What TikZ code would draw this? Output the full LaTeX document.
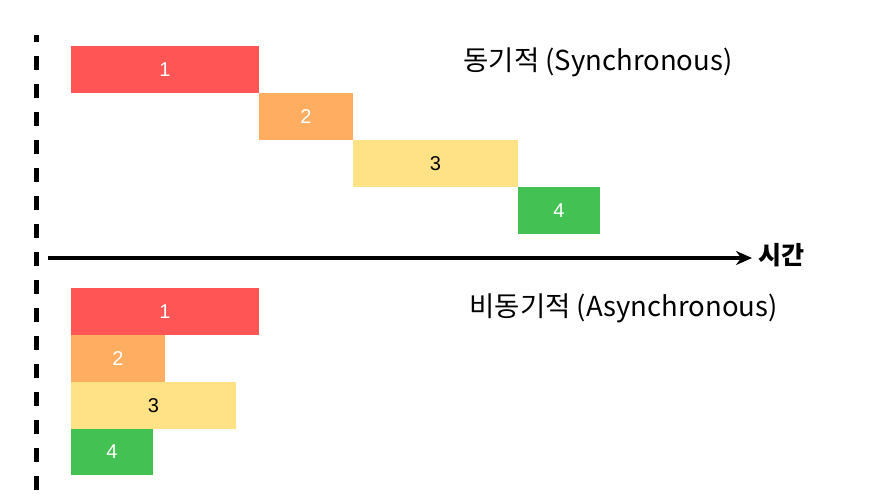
\documentclass[tikz,border=0pt]{standalone}
\usepackage{fontspec}
\setmainfont{Liberation Sans}
\newfontfamily\kr{Noto Sans CJK KR}
\usetikzlibrary{arrows.meta}
\definecolor{taskred}{HTML}{FF5555}
\definecolor{taskorange}{HTML}{FFAD60}
\definecolor{taskyellow}{HTML}{FFE285}
\definecolor{taskgreen}{HTML}{44C153}
\tikzset{
  taskbox/.style={anchor=north west, minimum height=47pt, inner sep=0pt, outer sep=0pt,
    font=\fontsize{20}{22}\selectfont, text=white},
  modelabel/.style={font=\kr\fontsize{27.5}{32}\selectfont, anchor=west},
  timeline/.style={line width=3.5pt, -{Stealth[length=16pt,width=14pt]}},
  dashline/.style={line width=5pt, dash pattern=on 14pt off 14pt, dash phase=7pt}
}
\begin{document}
\begin{tikzpicture}[x=1pt,y=-1pt]
  \useasboundingbox (0,0) rectangle (873,497);

  % time axis
  \draw[dashline] (36,35) -- (36,497);
  \coordinate (t0) at (48,258);
  \coordinate (t1) at (752,258);
  \draw[timeline] (t0) -- (t1);
  \node[font=\kr\bfseries\fontsize{25}{30}\selectfont, anchor=west] (time) at (755,255) {시간};

  % synchronous
  \node[taskbox, fill=taskred, minimum width=188pt] (s1) at (71,46) {1};
  \node[taskbox, fill=taskorange, minimum width=94pt] (s2) at (259,93) {2};
  \node[taskbox, fill=taskyellow, minimum width=165pt, text=black] (s3) at (353,140) {3};
  \node[taskbox, fill=taskgreen, minimum width=82pt] (s4) at (518,187) {4};
  \node[modelabel] (sync) at (460,62) {동기적 (Synchronous)};

  % asynchronous
  \node[taskbox, fill=taskred, minimum width=188pt] (a1) at (71,288) {1};
  \node[taskbox, fill=taskorange, minimum width=94pt] (a2) at (71,335) {2};
  \node[taskbox, fill=taskyellow, minimum width=165pt, text=black] (a3) at (71,382) {3};
  \node[taskbox, fill=taskgreen, minimum width=82pt, minimum height=46pt] (a4) at (71,429) {4};
  \node[modelabel] (async) at (466,308) {비동기적 (Asynchronous)};
\end{tikzpicture}
\end{document}
